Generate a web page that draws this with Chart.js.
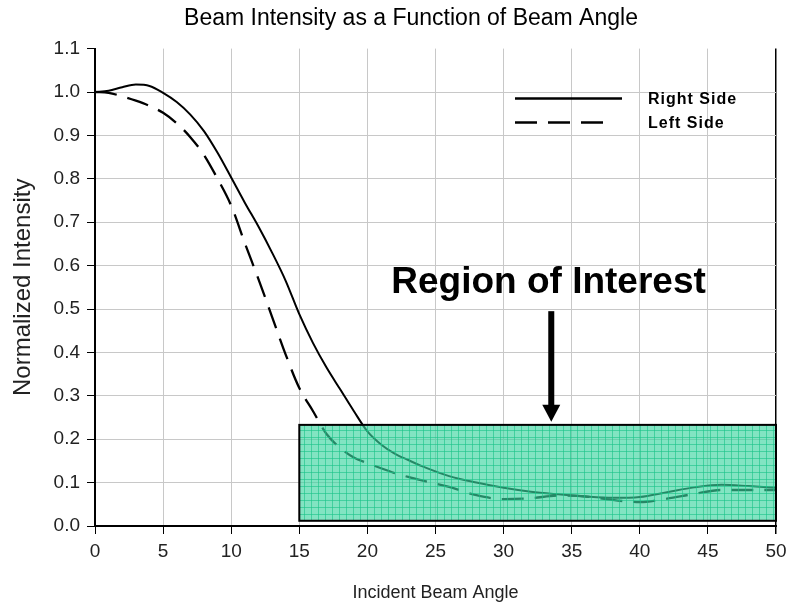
<!DOCTYPE html>
<html>
<head>
<meta charset="utf-8">
<script src="https://cdn.jsdelivr.net/npm/chart.js@4.4.0/dist/chart.umd.min.js"></script>
<style>
  html, body { margin: 0; padding: 0; background: #fff; }
  canvas { display: block; }
</style>
</head>
<body>
<canvas id="chart" width="787" height="606"></canvas>
<script>
// Incident beam angle (degrees)
const angles = [0, 1, 2, 3, 4, 5, 6, 7, 8, 9, 10, 11, 12, 13, 14, 15, 16, 17, 18, 19, 20,
                21, 22, 23, 24, 26, 28, 30, 32, 34, 36, 38, 40, 42, 44, 46, 48, 50];

// Normalized intensity, right side of the beam
const rightSide = [1.000, 1.003, 1.011, 1.017, 1.014, 0.998, 0.977, 0.948, 0.910, 0.860, 0.803,
                   0.745, 0.690, 0.630, 0.565, 0.488, 0.422, 0.365, 0.315, 0.265, 0.218,
                   0.188, 0.167, 0.152, 0.138, 0.115, 0.100, 0.088, 0.079, 0.073, 0.068,
                   0.065, 0.067, 0.078, 0.089, 0.095, 0.092, 0.088];

// Normalized intensity, left side of the beam
const leftSide = [1.000, 0.998, 0.990, 0.980, 0.968, 0.952, 0.928, 0.896, 0.855, 0.800, 0.738,
                  0.652, 0.569, 0.482, 0.395, 0.318, 0.265, 0.212, 0.180, 0.158, 0.145,
                  0.133, 0.122, 0.113, 0.105, 0.090, 0.071, 0.062, 0.064, 0.070, 0.068,
                  0.060, 0.055, 0.063, 0.074, 0.083, 0.083, 0.083];

const seriesNames = ['Right Side', 'Left Side'];
const chartTitle = 'Beam Intensity as a Function of Beam Angle';
const xTitle = 'Incident Beam Angle';
const yTitle = 'Normalized Intensity';

// Axis ranges
const xRange = [0, 50];
const xStep = 5;
const yRange = [0, 1.1];
const yStep = 0.1;

// Highlighted region (angle span, intensity span) and its callout
const regionAngles = [15, 50];
const regionIntensity = [0.012, 0.233];
const regionLabel = 'Region of Interest';
const labelAt = [33.3, 0.537];
const arrowAngle = 33.5;
const arrowIntensity = [0.495, 0.24];

const FONT = "'Liberation Sans', Arial, Helvetica, sans-serif";

const toPoints = (ys) => angles.map((a, i) => ({ x: a, y: ys[i] }));

// Region box, arrow, callout text and line legend
const overlay = {
  id: 'overlay',
  afterDatasetsDraw(chart) {
    const { ctx, scales: { x, y }, chartArea } = chart;
    ctx.save();

    const x0 = x.getPixelForValue(regionAngles[0]);
    const x1 = x.getPixelForValue(regionAngles[1]);
    const yTop = y.getPixelForValue(regionIntensity[1]);
    const yBot = y.getPixelForValue(regionIntensity[0]);

    ctx.fillStyle = 'rgba(60, 212, 160, 0.64)';
    ctx.fillRect(x0, yTop, x1 - x0, yBot - yTop);

    // fine hatch grid inside the box
    ctx.beginPath();
    for (let px = x0 + 5; px < x1 - 1; px += 7) {
      ctx.moveTo(Math.round(px) + 0.5, yTop);
      ctx.lineTo(Math.round(px) + 0.5, yBot);
    }
    for (let py = yTop + 5; py < yBot - 1; py += 7) {
      ctx.moveTo(x0, Math.round(py) + 0.5);
      ctx.lineTo(x1, Math.round(py) + 0.5);
    }
    ctx.strokeStyle = 'rgba(25, 195, 135, 0.6)';
    ctx.lineWidth = 1;
    ctx.stroke();

    ctx.strokeStyle = '#000';
    ctx.lineWidth = 2;
    ctx.strokeRect(x0, yTop, x1 - x0, yBot - yTop);

    // arrow
    const ax = x.getPixelForValue(arrowAngle);
    const ay0 = y.getPixelForValue(arrowIntensity[0]);
    const ay1 = y.getPixelForValue(arrowIntensity[1]);
    ctx.fillStyle = '#000';
    ctx.fillRect(ax - 3, ay0, 6, (ay1 - 16) - ay0);
    ctx.beginPath();
    ctx.moveTo(ax - 9, ay1 - 17);
    ctx.lineTo(ax + 9, ay1 - 17);
    ctx.lineTo(ax, ay1);
    ctx.closePath();
    ctx.fill();

    // callout text
    ctx.font = `bold 37px ${FONT}`;
    ctx.textAlign = 'center';
    ctx.textBaseline = 'alphabetic';
    ctx.fillText(regionLabel, x.getPixelForValue(labelAt[0]), y.getPixelForValue(labelAt[1]));

    // legend
    const lx0 = chartArea.left + 420, lx1 = chartArea.left + 527;
    const rows = [chartArea.top + 50, chartArea.top + 74];
    ctx.strokeStyle = '#000';
    ctx.lineWidth = 2.5;
    chart.data.datasets.forEach((ds, i) => {
      ctx.beginPath();
      ctx.setLineDash(ds.borderDash || []);
      ctx.moveTo(lx0, rows[i]);
      ctx.lineTo(i === 0 ? lx1 : lx1 - 12, rows[i]);
      ctx.stroke();
    });
    ctx.setLineDash([]);
    ctx.font = `bold 16px ${FONT}`;
    ctx.textAlign = 'left';
    ctx.textBaseline = 'middle';
    if ('letterSpacing' in ctx) ctx.letterSpacing = '1px';
    chart.data.datasets.forEach((ds, i) => {
      ctx.fillText(ds.label, chartArea.left + 553, rows[i] + 1);
    });
    ctx.restore();
  }
};

new Chart(document.getElementById('chart'), {
  type: 'line',
  data: {
    datasets: [
      {
        label: seriesNames[0],
        data: toPoints(rightSide),
        borderColor: '#000',
        borderWidth: 2,
        pointRadius: 0,
        cubicInterpolationMode: 'monotone',
        fill: false
      },
      {
        label: seriesNames[1],
        data: toPoints(leftSide),
        borderColor: '#000',
        borderWidth: 2.3,
        borderDash: [22, 11],
        pointRadius: 0,
        cubicInterpolationMode: 'monotone',
        fill: false
      }
    ]
  },
  options: {
    responsive: false,
    animation: false,
    devicePixelRatio: 1,
    layout: { padding: { top: 0, right: 11, bottom: 0, left: 46 } },
    plugins: {
      legend: { display: false },
      tooltip: { enabled: false },
      title: {
        display: true,
        text: chartTitle,
        color: '#000',
        font: { family: FONT, size: 23, weight: 'normal' },
        padding: { top: 5, bottom: 16 }
      }
    },
    scales: {
      x: {
        type: 'linear',
        min: xRange[0],
        max: xRange[1],
        afterFit: (s) => { s.height = 80; s.paddingLeft = 0; s.paddingRight = 0; },
        ticks: {
          stepSize: xStep,
          color: '#222',
          padding: 6,
          maxRotation: 0,
          font: { family: FONT, size: 19 }
        },
        grid: {
          color: (c) => (c.tick && c.tick.value === xRange[1]) ? '#000' : '#c8c8c8',
          lineWidth: (c) => (c.tick && c.tick.value === xRange[1]) ? 1.5 : 1,
          tickColor: '#000',
          tickLength: 8
        },
        border: { color: '#000', width: 2 },
        title: {
          display: true,
          text: xTitle,
          color: '#222',
          font: { family: FONT, size: 18 },
          padding: { top: 0, bottom: 2 }
        }
      },
      y: {
        type: 'linear',
        min: yRange[0],
        max: yRange[1],
        afterFit: (s) => { s.width = 49; s.paddingTop = 0; s.paddingBottom = 0; },
        ticks: {
          stepSize: yStep,
          color: '#222',
          padding: 7,
          font: { family: FONT, size: 19 },
          callback: (v) => Number(v).toFixed(1)
        },
        grid: {
          color: (c) => (c.tick && Math.abs(c.tick.value - yRange[1]) < 1e-9) ? 'rgba(0,0,0,0)' : '#c8c8c8',
          tickColor: '#000',
          tickLength: 8
        },
        border: { color: '#000', width: 2 },
        title: {
          display: true,
          text: yTitle,
          color: '#222',
          font: { family: FONT, size: 24 },
          padding: { top: -37, bottom: 0 }
        }
      }
    }
  },
  plugins: [overlay]
});
</script>
</body>
</html>
